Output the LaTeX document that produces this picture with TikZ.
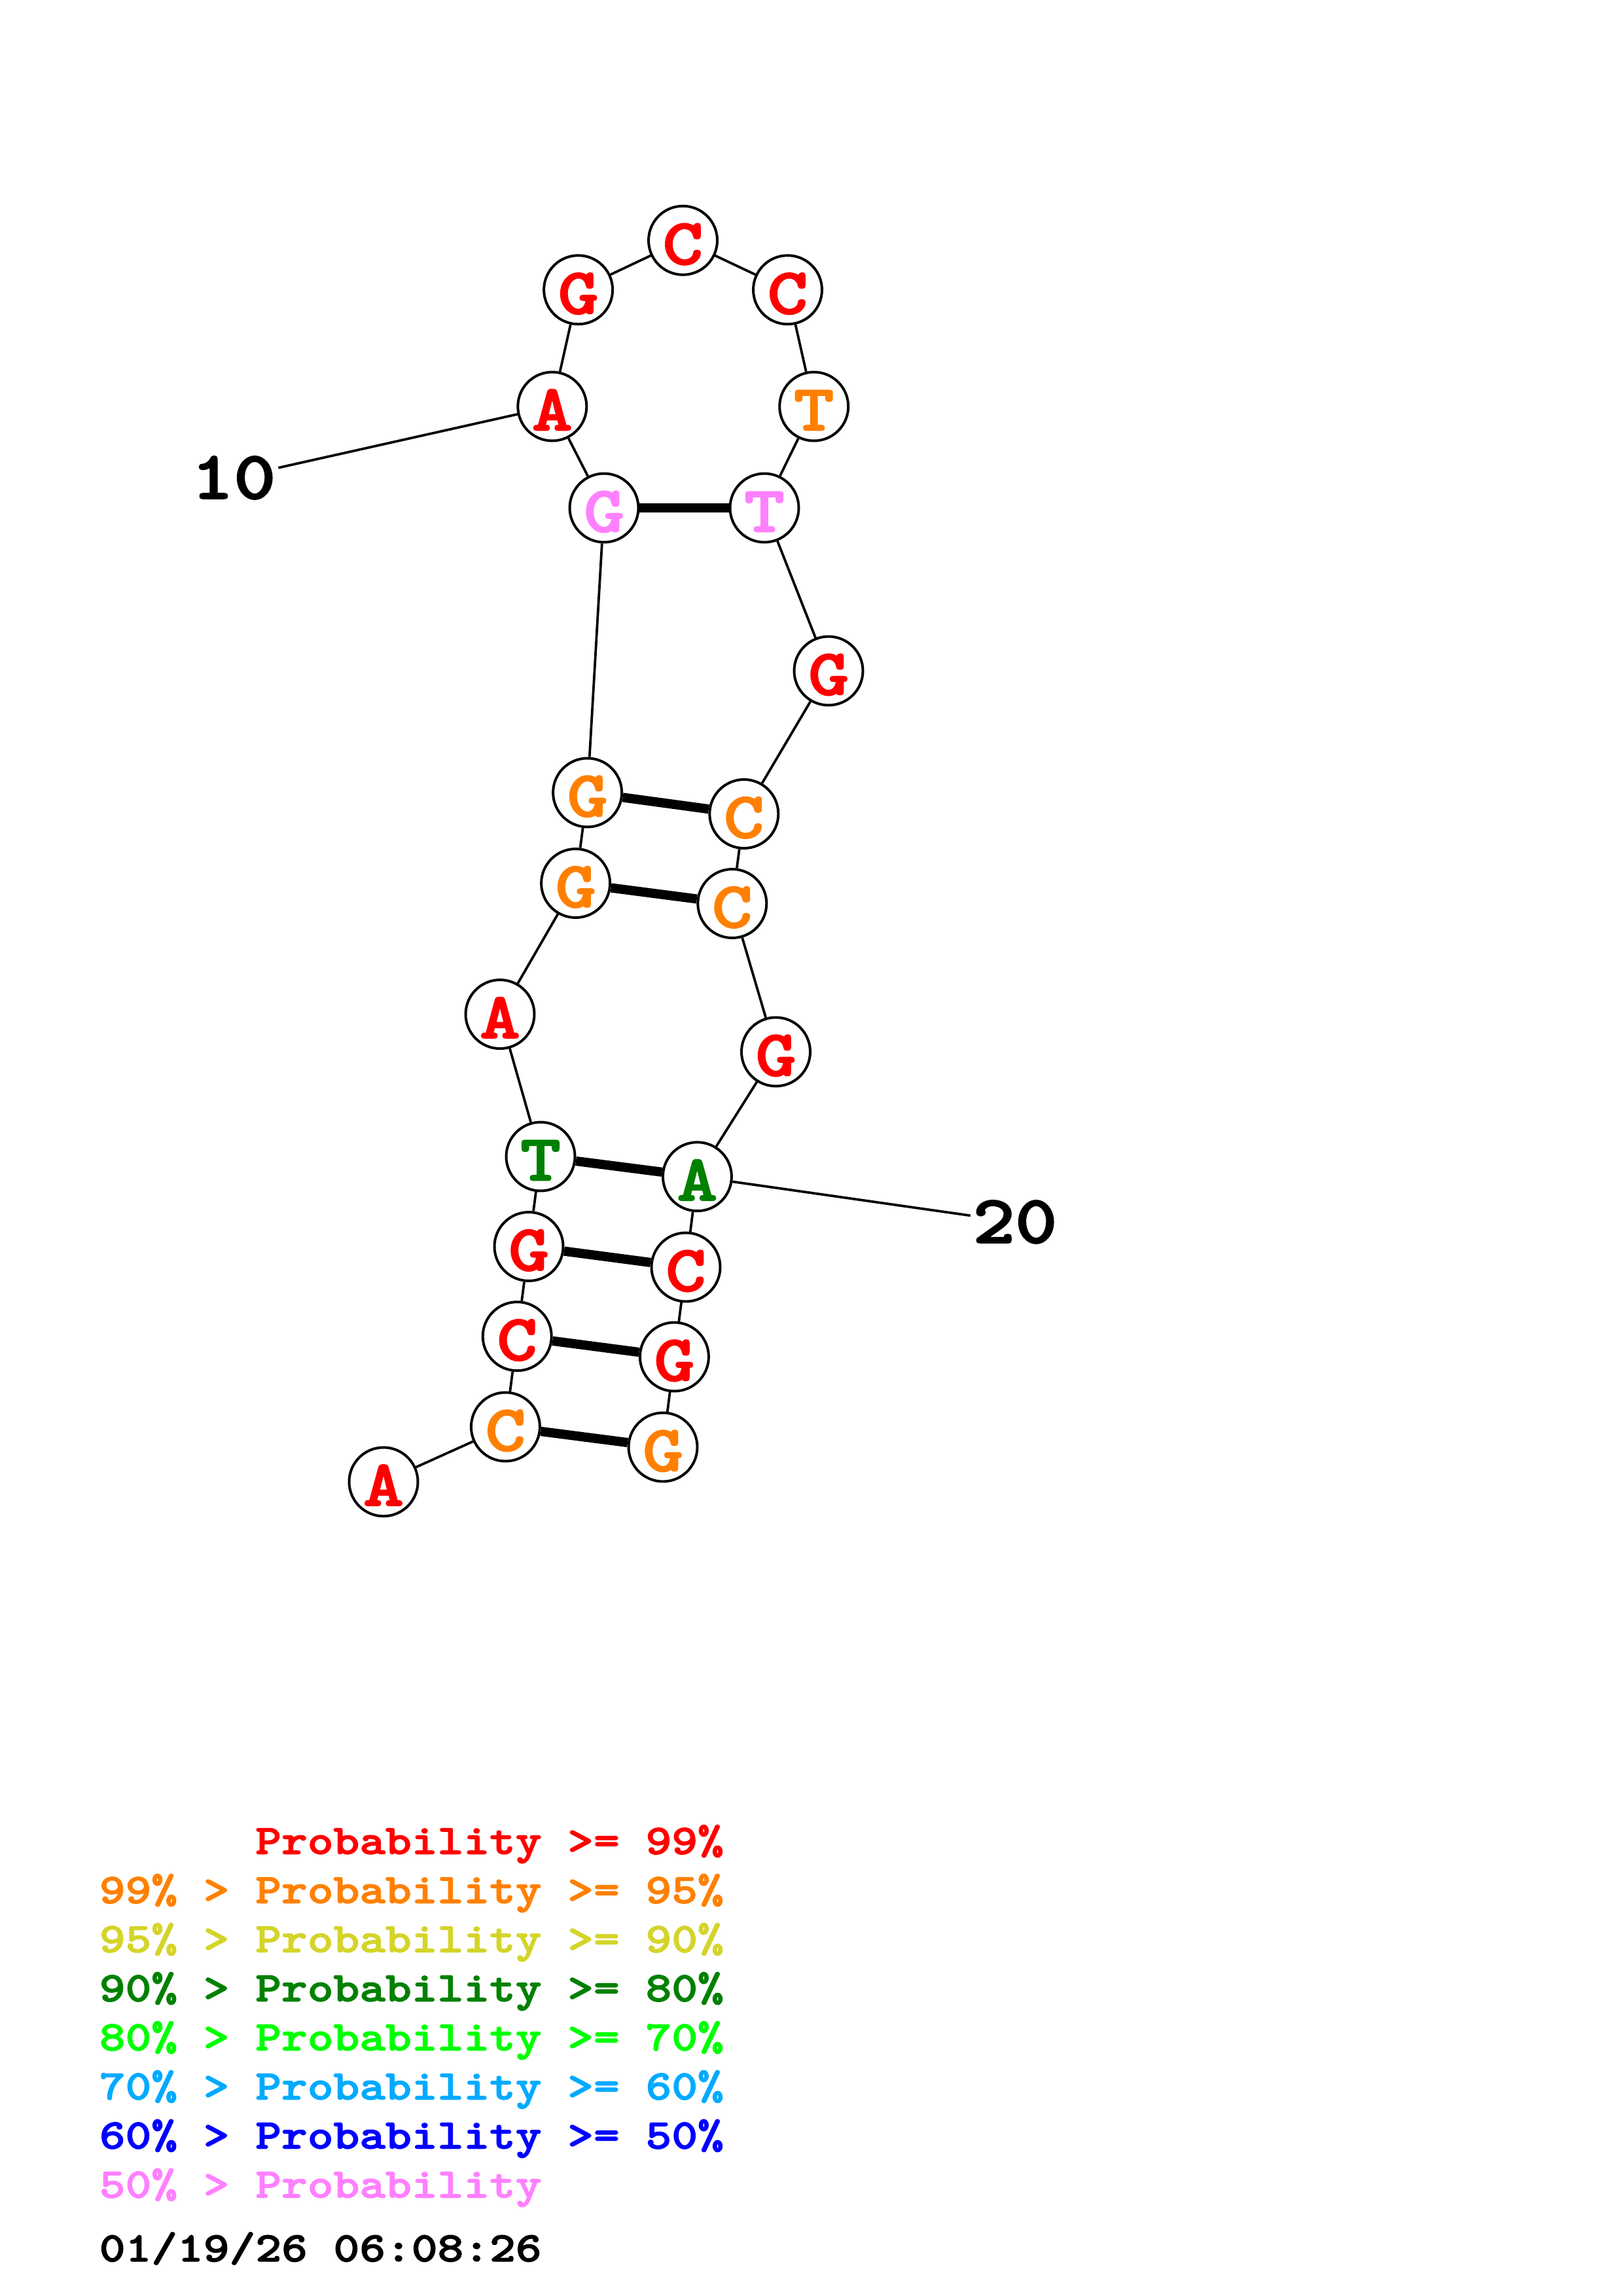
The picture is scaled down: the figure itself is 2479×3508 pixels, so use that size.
\documentclass[tikz,border=0pt]{standalone}
\usepackage{fontspec}
\usetikzlibrary{backgrounds}
\newfontfamily\cour{lmmonolt10-bold.otf}[FakeStretch=1.18,FakeBold=2]
\definecolor{pred}{HTML}{FF0000}
\definecolor{porange}{HTML}{FF8000}
\definecolor{pyellow}{HTML}{D4D42A}
\definecolor{pdkgreen}{HTML}{008000}
\definecolor{pgreen}{HTML}{00FF00}
\definecolor{psky}{HTML}{00AAFF}
\definecolor{pblue}{HTML}{0000FF}
\definecolor{ppink}{HTML}{FF80FF}
\begin{document}
\begin{tikzpicture}[x=0.24pt,y=-0.24pt,
  base/.style={circle,draw=black,line width=0.95pt,fill=white,minimum size=25.2pt,inner sep=0pt,
    font=\cour\fontsize{24}{24}\selectfont,text height=17.5pt,text depth=0pt},
  backbone/.style={line width=0.9pt},
  pairline/.style={line width=3.4pt},
  numlbl/.style={font=\cour\fontsize{25}{25}\selectfont,inner sep=0.7pt},
  legend/.style={anchor=base west,inner sep=0pt,font=\cour\fontsize{15.4}{15.4}\selectfont}]
\useasboundingbox (0,0) rectangle (2479,3508);
% nucleotides
\node[base,text=pred]     (n1)  at (586,2264)    {A};
\node[base,text=porange]  (n2)  at (772.4,2180)  {C};
\node[base,text=pred]     (n3)  at (790.2,2041.7){C};
\node[base,text=pred]     (n4)  at (808,1904.5)  {G};
\node[base,text=pdkgreen] (n5)  at (826,1767)    {T};
\node[base,text=pred]     (n6)  at (764,1549.6)  {A};
\node[base,text=porange]  (n7)  at (879.6,1349.5){G};
\node[base,text=porange]  (n8)  at (897.6,1211)  {G};
\node[base,text=ppink]    (n9)  at (923,776)     {G};
\node[base,text=pred]     (n10) at (843.8,621)   {A};
\node[base,text=pred]     (n11) at (883.6,442.8) {G};
\node[base,text=pred]     (n12) at (1043.5,367.3){C};
\node[base,text=pred]     (n13) at (1203.5,442.8){C};
\node[base,text=porange]  (n14) at (1243.7,621)  {T};
\node[base,text=ppink]    (n15) at (1168,776)    {T};
\node[base,text=pred]     (n16) at (1266,1025)   {G};
\node[base,text=porange]  (n17) at (1136.8,1243.5){C};
\node[base,text=porange]  (n18) at (1118.8,1380.5){C};
\node[base,text=pred]     (n19) at (1185.5,1607) {G};
\node[base,text=pdkgreen] (n20) at (1065.4,1797.7){A};
\node[base,text=pred]     (n21) at (1048,1936)   {C};
\node[base,text=pred]     (n22) at (1030.4,2073) {G};
\node[base,text=porange]  (n23) at (1013,2211)   {G};
% position labels
\node[numlbl] (l10) at (357,730)  {10};
\node[numlbl] (l20) at (1551,1867) {20};
\begin{scope}[on background layer]
  \foreach \a/\b in {n1/n2,n2/n3,n3/n4,n4/n5,n5/n6,n6/n7,n7/n8,n8/n9,n9/n10,n10/n11,n11/n12,
    n12/n13,n13/n14,n14/n15,n15/n16,n16/n17,n17/n18,n18/n19,n19/n20,n20/n21,n21/n22,n22/n23}
    \draw[backbone] (\a) -- (\b);
  \draw[backbone] (n10) -- (l10);
  \draw[backbone] (n20) -- (l20);
  \foreach \a/\b in {n2/n23,n3/n22,n4/n21,n5/n20,n7/n18,n8/n17,n9/n15}
    \draw[pairline] (\a) -- (\b);
\end{scope}
% legend
\node[legend,text=pred]     (lg1) at (151,2832.6) {\phantom{99\% > }Probability >= 99\%};
\node[legend,text=porange]  (lg2) at (151,2907.6) {99\% > Probability >= 95\%};
\node[legend,text=pyellow]  (lg3) at (151,2982.6) {95\% > Probability >= 90\%};
\node[legend,text=pdkgreen] (lg4) at (151,3057.6) {90\% > Probability >= 80\%};
\node[legend,text=pgreen]   (lg5) at (151,3132.6) {80\% > Probability >= 70\%};
\node[legend,text=psky]     (lg6) at (151,3207.6) {70\% > Probability >= 60\%};
\node[legend,text=pblue]    (lg7) at (151,3282.6) {60\% > Probability >= 50\%};
\node[legend,text=ppink]    (lg8) at (151,3357.6) {50\% > Probability};
\node[legend,text=black]    (ts)  at (151,3455)   {01/19/26 06:08:26};
\end{tikzpicture}
\end{document}
